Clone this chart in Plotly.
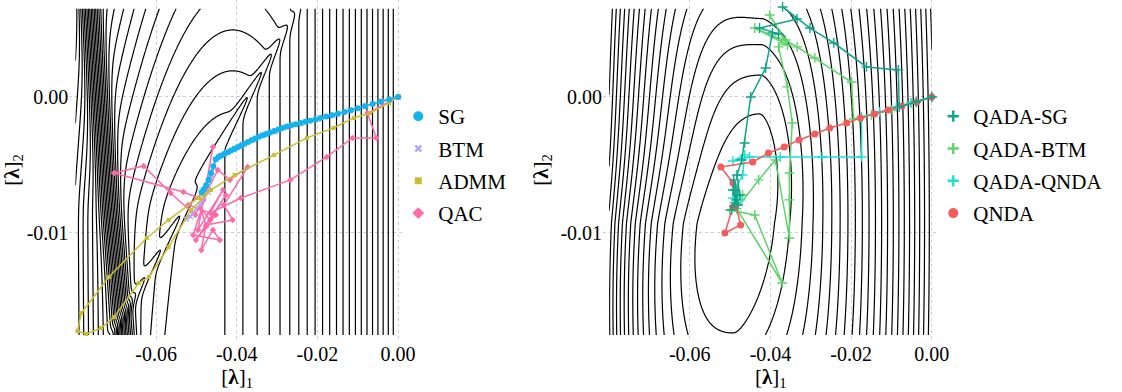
import numpy as np
import plotly.graph_objects as go

# ---------------- trajectories: left panel ----------------
sg_x = [0, -0.0022, -0.0043, -0.0063, -0.0082, -0.0100, -0.0117, -0.0133, -0.0149, -0.0164,
        -0.0178, -0.0192, -0.0205, -0.0218, -0.0230, -0.0242, -0.0254, -0.0265, -0.0276, -0.0287,
        -0.0297, -0.0307, -0.0317, -0.0327, -0.0336, -0.0345, -0.0354, -0.0363, -0.0372, -0.0381,
        -0.0390, -0.0398, -0.0406, -0.0414, -0.0422, -0.0430, -0.0438, -0.0445, -0.0452, -0.0458,
        -0.0464, -0.0470, -0.0476, -0.0482, -0.0487]
sg_y = [0, -0.00018, -0.00036, -0.00052, -0.00068, -0.00083, -0.00097, -0.00110, -0.00124, -0.00134,
        -0.00144, -0.00155, -0.00165, -0.00174, -0.00183, -0.00192, -0.00200, -0.00208, -0.00217, -0.00228,
        -0.00239, -0.00250, -0.00261, -0.00272, -0.00282, -0.00292, -0.00305, -0.00318, -0.00331, -0.00344,
        -0.00358, -0.00370, -0.00382, -0.00394, -0.00406, -0.00418, -0.00430, -0.00441, -0.00458, -0.0051,
        -0.0056, -0.0061, -0.0065, -0.0068, -0.0070]

btm_x = [0, -0.0040, -0.0080, -0.0120, -0.0160, -0.0200, -0.0240, -0.0275, -0.0305, -0.0335,
         -0.0360, -0.0385, -0.0405, -0.0425, -0.0440, -0.0452, -0.0462, -0.0471, -0.0490, -0.0515,
         -0.0500, -0.0482, -0.0510, -0.0525]
btm_y = [0, -0.00033, -0.00066, -0.00098, -0.00130, -0.00163, -0.00195, -0.00225, -0.00255, -0.00285,
         -0.00315, -0.00348, -0.00378, -0.00405, -0.00430, -0.00460, -0.0058, -0.0070, -0.0079, -0.0088,
         -0.0082, -0.0075, -0.0086, -0.0090]

admm_x = [0, -0.0022, -0.0069, -0.0110, -0.0160, -0.0226, -0.0307, -0.0405, -0.0496, -0.0569,
          -0.0623, -0.0717, -0.0785, -0.0795, -0.0773, -0.0736, -0.0704, -0.0643, -0.0618, -0.0569,
          -0.0513, -0.0464]
admm_y = [0, -0.00044, -0.00118, -0.00154, -0.00228, -0.00301, -0.00426, -0.00574, -0.00743, -0.00904,
          -0.01037, -0.01324, -0.01588, -0.01721, -0.01743, -0.01699, -0.01618, -0.01368, -0.01324, -0.01103,
          -0.00831, -0.00684]

qac_x = [0, -0.0076, -0.0054, -0.0113, -0.0177, -0.0267, -0.0390, -0.0466, -0.0434, -0.0496,
         -0.0459, -0.0483, -0.0532, -0.0704, -0.0631, -0.0564, -0.0503, -0.0447, -0.0417, -0.0373,
         -0.0432, -0.0410, -0.0476, -0.0488, -0.0459, -0.0442, -0.0508, -0.0471, -0.0520, -0.0452,
         -0.0501, -0.0427, -0.0466, -0.0490, -0.0475]
qac_y = [0, -0.00118, -0.00301, -0.00301, -0.00441, -0.00610, -0.00743, -0.00853, -0.00684, -0.00978,
         -0.00368, -0.00757, -0.00699, -0.00559, -0.00507, -0.00706, -0.00868, -0.00537, -0.00610, -0.00515,
         -0.00794, -0.00904, -0.00941, -0.01125, -0.00978, -0.01051, -0.01015, -0.00669, -0.00794, -0.00868,
         -0.01051, -0.00721, -0.00904, -0.00820, -0.00950]

# ---------------- trajectories: right panel ----------------
qsg_x = [0, -0.0039, -0.0081, -0.0083, -0.0162, -0.0243, -0.0302, -0.0370, -0.0334, -0.0427,
         -0.0380, -0.0395, -0.0412, -0.0449, -0.0464, -0.0471, -0.0483, -0.0476, -0.0491, -0.0481,
         -0.0493, -0.0486, -0.0496, -0.0483, -0.0488]
qsg_y = [0, -0.00037, -0.00074, 0.00199, 0.00221, 0.00397, 0.00507, 0.00662, 0.00574, 0.00507,
         0.00463, 0.00471, 0.00213, 0.0, -0.00338, -0.00463, -0.00574, -0.00721, -0.00610, -0.00794,
         -0.00684, -0.00757, -0.00831, -0.00721, -0.00779]

qbtm_x = [0, -0.0052, -0.0101, -0.0150, -0.0194, -0.0199, -0.0290, -0.0334, -0.0363, -0.0402,
          -0.0358, -0.0439, -0.0371, -0.0380, -0.0358, -0.0346, -0.0353, -0.0353, -0.0353, -0.0388,
          -0.0429, -0.0484, -0.0371, -0.0439, -0.0501, -0.0469]
qbtm_y = [0, -0.00044, -0.00096, -0.00132, -0.00162, 0.00110, 0.00287, 0.00368, 0.00419, 0.00603,
          0.00382, 0.00507, 0.00419, 0.00368, 0.00074, -0.00191, -0.00559, -0.00757, -0.01037, -0.00463,
          -0.00610, -0.00820, -0.01368, -0.00868, -0.00831, -0.00721]

qqnda_x = [0, -0.0052, -0.0088, -0.0130, -0.0174, -0.0174, -0.0272, -0.0376, -0.0452, -0.0493,
           -0.0464, -0.0469, -0.0488, -0.0474, -0.0493, -0.0481]
qqnda_y = [0, -0.00044, -0.00074, -0.00110, -0.00147, -0.00441, -0.00441, -0.00441, -0.00441, -0.00471,
           -0.00426, -0.00574, -0.00684, -0.00757, -0.00743, -0.00794]

qnda_x = [0, -0.0037, -0.0074, -0.0108, -0.0142, -0.0177, -0.0211, -0.0253, -0.0290, -0.0329,
          -0.0366, -0.0405, -0.0444, -0.0523, -0.0493, -0.0486, -0.0474, -0.0513, -0.0493]
qnda_y = [0, -0.00037, -0.00066, -0.00096, -0.00125, -0.00154, -0.00191, -0.00228, -0.00272, -0.00316,
          -0.00368, -0.00412, -0.00478, -0.00515, -0.00632, -0.00794, -0.00941, -0.01000, -0.00809]

x_ticks = [-0.06, -0.04, -0.02, 0.0]
x_tick_text = ["-0.06", "-0.04", "-0.02", "0.00"]
y_ticks = [0.0, -0.01]
y_tick_text = ["0.00", "-0.01"]


# ---------------- dual objective landscapes ----------------
def softplus(z):
    return np.logaddexp(0.0, z)


def dual_left(x, y):
    X = x / 0.02
    Y = y / 0.006
    R = 3.0 * (X + 2.78) ** 2                                   # vertical regime
    h = Y + 1.35
    arch = 1.25 * h + 0.75 * np.sqrt(h ** 2 + 0.04) - 0.15 + 3.0 * (X + 2.05) ** 2
    d = (-3.25 - 0.1055 * (Y + 2.89)) - X                        # distance past the steep wall
    wall = 0.3 * softplus(d / 0.05) + 1.2 * (softplus(d / 0.03) - softplus((d - 0.3) / 0.03))
    xp, yp = X + 2.44, Y + 1.0
    t = 0.497 * xp + 0.868 * yp                                  # along the crease
    s = -0.868 * xp + 0.497 * yp                                 # across the crease
    crease = (-0.15 - 1.35 * np.tanh(t / 0.4)) * np.exp(-(s / 0.05) ** 2) \
        * np.exp(-((t + 0.3) / 2.6) ** 6)
    return np.maximum(R, arch + wall) + crease


def dual_right(x, y):
    x0, y0 = -0.047, -0.0093
    v = y - y0
    w = np.exp(-((x - x0) / np.where(x < x0, 0.03, 0.012)) ** 2)
    shift = np.where(v > 0, 0.0055, 0.0027) * np.tanh(v / 0.006)
    u = x - (x0 + shift * w)
    H = np.where(u > 0,
                 110 * (np.sqrt(u ** 2 + 0.002 ** 2) - 0.002) + 8050 * u ** 2,
                 7000 * u ** 2 + 230000 * np.abs(u) ** 3)
    V = 18500 * v ** 2 / (1 + (u / 0.02) ** 2)
    return H + V


gx = np.linspace(-0.08, 0.0, 720)
gy = np.linspace(-0.0175, 0.0065, 380)
GX, GY = np.meshgrid(gx, gy)
z_left = np.round(dual_left(GX, GY), 4)
z_right = np.round(dual_right(GX, GY), 4)

fig = go.Figure()

for z, xa, ya in [(z_left, "x", "y"), (z_right, "x2", "y2")]:
    fig.add_trace(go.Contour(
        x=gx, y=gy, z=z, xaxis=xa, yaxis=ya,
        contours=dict(coloring="none", start=1.2, end=90, size=1),
        line=dict(color="black", width=1.2, smoothing=0.6),
        showscale=False, hoverinfo="skip", showlegend=False))

FAMILY = "Liberation Serif, 'Times New Roman', serif"
C_SG, C_BTM, C_ADMM, C_QAC = "#12b3ef", "#b3a3f4", "#cbbd30", "#ff6aa8"
C_QSG, C_QBTM, C_QQNDA, C_QNDA = "#0ea487", "#5fd46b", "#1fe0d4", "#f45b5b"


def path(x, y, color, symbol, size, xa, ya, thin=False):
    marker = dict(symbol=symbol, size=size, color=color)
    if thin:
        marker["line"] = dict(color=color, width=1.4)
    return go.Scatter(x=x, y=y, mode="lines+markers", xaxis=xa, yaxis=ya,
                      line=dict(color=color, width=1.5), marker=marker,
                      showlegend=False, hoverinfo="skip")


fig.add_trace(path(qac_x, qac_y, C_QAC, "diamond", 5, "x", "y"))
fig.add_trace(path(btm_x, btm_y, C_BTM, "x-thin", 5, "x", "y", thin=True))
fig.add_trace(path(admm_x, admm_y, C_ADMM, "square", 4, "x", "y"))
fig.add_trace(path(sg_x, sg_y, C_SG, "circle", 6, "x", "y"))

fig.add_trace(path(qbtm_x, qbtm_y, C_QBTM, "cross-thin", 7, "x2", "y2", thin=True))
fig.add_trace(path(qqnda_x, qqnda_y, C_QQNDA, "cross-thin", 7, "x2", "y2", thin=True))
fig.add_trace(path(qnda_x, qnda_y, C_QNDA, "circle", 7, "x2", "y2"))
fig.add_trace(path(qsg_x, qsg_y, C_QSG, "cross-thin", 7, "x2", "y2", thin=True))


def key(name, color, symbol, size, legend, xa, ya, thin=False):
    marker = dict(symbol=symbol, size=size, color=color)
    if thin:
        marker["line"] = dict(color=color, width=2.4)
    return go.Scatter(x=[None], y=[None], mode="markers", name=name, marker=marker,
                      legend=legend, legendgroup=name, xaxis=xa, yaxis=ya, hoverinfo="skip")


fig.add_trace(key("SG", C_SG, "circle", 10, "legend", "x", "y"))
fig.add_trace(key("BTM", C_BTM, "x-thin", 6, "legend", "x", "y", thin=True))
fig.add_trace(key("ADMM", C_ADMM, "square", 7, "legend", "x", "y"))
fig.add_trace(key("QAC", C_QAC, "diamond", 9, "legend", "x", "y"))
fig.add_trace(key("QADA-SG", C_QSG, "cross-thin", 8, "legend2", "x2", "y2", thin=True))
fig.add_trace(key("QADA-BTM", C_QBTM, "cross-thin", 8, "legend2", "x2", "y2", thin=True))
fig.add_trace(key("QADA-QNDA", C_QQNDA, "cross-thin", 8, "legend2", "x2", "y2", thin=True))
fig.add_trace(key("QNDA", C_QNDA, "circle", 10, "legend2", "x2", "y2"))

xr = [-0.0815, 0.0017]
yr = [-0.01787, 0.00713]


def xaxis(domain, anchor):
    return dict(domain=domain, anchor=anchor, range=xr, tickvals=x_ticks, ticktext=x_tick_text,
                showgrid=True, gridcolor="#cdcde0", griddash="dot", gridwidth=1,
                zeroline=False, showline=False, ticks="",
                tickfont=dict(family=FAMILY, size=20, color="black"),
                title=dict(text="[<b>λ</b>]<sub>1</sub>",
                           font=dict(family=FAMILY, size=21, color="black"), standoff=4))


def yaxis(anchor):
    return dict(domain=[0.1327, 1.0], anchor=anchor, range=yr, tickvals=y_ticks, ticktext=y_tick_text,
                showgrid=True, gridcolor="#cdcde0", griddash="dot", gridwidth=1,
                zeroline=False, showline=False, ticks="",
                tickfont=dict(family=FAMILY, size=20, color="black"),
                title=dict(text="[<b>λ</b>]<sub>2</sub>",
                           font=dict(family=FAMILY, size=21, color="black"), standoff=6))


legend_style = dict(xanchor="left", yanchor="top", font=dict(family=FAMILY, size=21, color="black"),
                    bgcolor="rgba(0,0,0,0)", borderwidth=0, itemwidth=30, tracegroupgap=2)

fig.update_layout(
    width=1122, height=392,
    margin=dict(l=0, r=0, t=0, b=0),
    paper_bgcolor="white", plot_bgcolor="white",
    font=dict(family=FAMILY, color="black", size=20),
    hovermode=False,
    xaxis=xaxis([0.0624, 0.3645], "y"),
    yaxis=yaxis("x"),
    xaxis2=xaxis([0.5428, 0.8449], "y2"),
    yaxis2=yaxis("x2"),
    legend=dict(x=0.3585, y=0.755, **legend_style),
    legend2=dict(x=0.8400, y=0.755, **legend_style),
)

fig.write_html("out.html")
